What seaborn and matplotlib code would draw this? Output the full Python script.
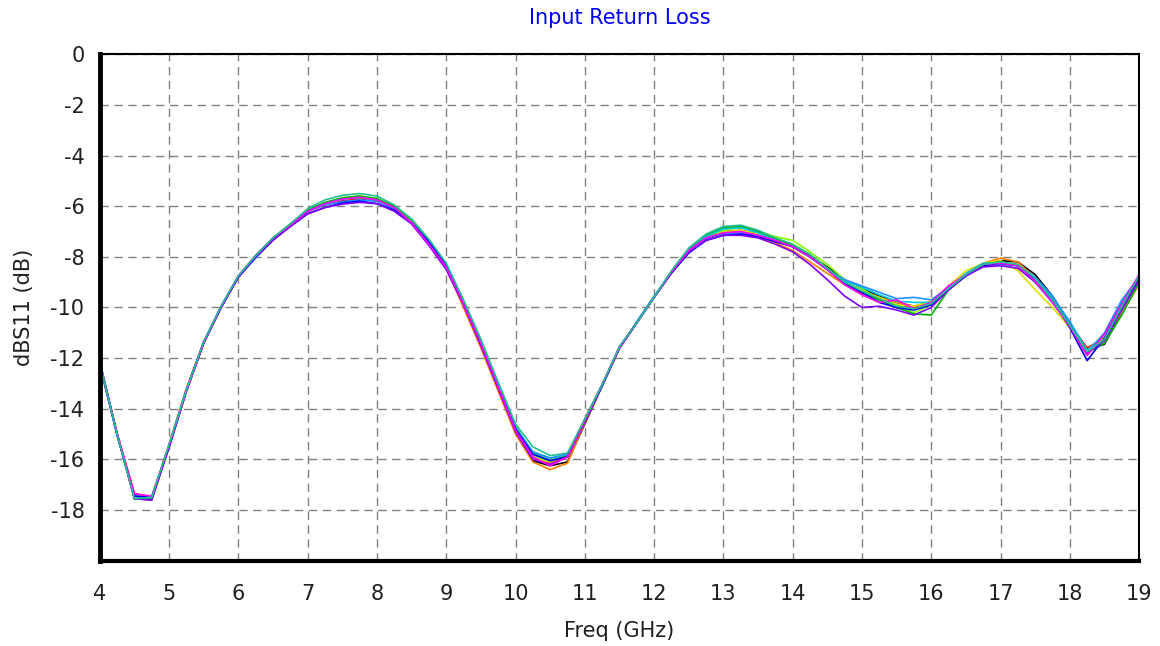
import numpy as np
import pandas as pd
import seaborn as sns
from matplotlib import pyplot as plt
from matplotlib.ticker import AutoMinorLocator, MultipleLocator

# frequency grid (GHz), 0.25 GHz steps
freq = np.arange(4.0, 19.001, 0.25)

# mean S11 trace (dB)
s11_base = [-12.2, -15.0, -17.45, -17.5, -15.5, -13.3, -11.4, -10.0, -8.8, -8.0, -7.3, -6.75, -6.2, -5.9, -5.72,
            -5.65, -5.75, -6.05, -6.6, -7.4, -8.35, -9.8, -11.4, -13.1, -14.8, -15.8, -16.05, -15.9, -14.5, -13.1,
            -11.6, -10.6, -9.6, -8.6, -7.75, -7.25, -7.0, -6.95, -7.1, -7.35, -7.6, -8.0, -8.5, -9.0, -9.3,
            -9.6, -9.8, -9.95, -9.8, -9.25, -8.75, -8.35, -8.25, -8.35, -8.9, -9.7, -10.7, -11.8, -11.2, -10.0, -8.9]

# spread of each measured unit around the mean (dB)
dev_black = [0, 0, -0.1, -0.1, 0, 0, 0, 0, 0, 0, 0, 0, 0, 0, -0.05,
             -0.05, -0.05, 0, 0, 0.05, 0, -0.1, -0.1, -0.1, -0.15, -0.25, -0.2, -0.2, -0.1, 0,
             0, 0, 0, 0, 0, 0, -0.05, -0.05, 0, 0, 0.05, 0.05, 0.1, 0.1, 0.05,
             0.05, 0, 0, 0, 0, 0.05, 0.05, 0.1, 0.15, 0.2, 0.15, 0.05, 0.15, -0.25, -0.2, 0]
dev_red = [-0.1, 0, 0.1, 0, 0.1, 0.1, 0.05, 0, 0, 0.05, 0, 0, 0, -0.05, -0.05,
           -0.05, 0, 0, 0.05, 0, 0, 0.05, 0.1, 0, 0, -0.1, -0.1, 0.05, 0.1, 0.05,
           0, 0, 0, 0, 0, 0.05, 0, 0, 0, 0.05, 0, 0, 0, -0.1, -0.15,
           -0.1, -0.1, -0.05, 0, 0.05, 0, 0, 0, 0.05, 0, -0.05, 0.05, 0.2, 0, -0.1, -0.1]
dev_orange = [0, 0, 0, 0, 0, 0, 0, 0, 0, 0, 0, 0, 0, 0, 0,
              0, 0, 0, 0, -0.05, -0.1, -0.2, -0.2, -0.2, -0.2, -0.3, -0.35, -0.25, -0.05, 0,
              0, 0, 0, 0, 0, -0.05, -0.1, -0.1, -0.1, -0.1, -0.15, -0.2, -0.15, -0.1, -0.05,
              0, 0, 0, 0, 0, 0.05, 0.1, 0.2, 0.15, 0.05, -0.1, 0, 0.1, 0, -0.2, -0.2]
dev_yellow = [0, 0.05, 0, 0, 0.05, 0.05, 0, 0, 0, 0, 0, 0, 0, 0, 0,
              0, 0, 0, 0, 0, 0, 0, 0, -0.05, -0.05, -0.15, -0.05, 0.05, 0.05, 0.05,
              0.05, 0, 0, 0, 0, 0, 0, 0, 0, 0.05, 0.1, 0.1, 0.05, 0, -0.05,
              0, -0.1, 0, 0.05, 0.1, 0.2, 0.1, 0.1, -0.2, -0.4, -0.3, -0.1, 0.1, 0, 0, 0]
dev_lime = [0, 0, 0, 0, 0, 0, 0, 0, 0, 0, 0, 0, 0, 0, 0.05,
            0.05, 0.05, 0, 0.05, 0.05, 0.05, 0, 0, 0, 0, -0.1, 0, 0.05, 0.05, 0.05,
            0, 0, 0, 0, 0, 0.05, 0.05, 0.1, 0.1, 0.15, 0.25, 0.2, 0.2, 0.1, 0.05,
            -0.1, -0.1, -0.25, -0.1, 0, 0, 0.05, 0.05, 0, -0.1, -0.05, 0, 0.05, -0.1, -0.1, 0]
dev_green = [0.1, 0, -0.1, -0.05, 0, 0, 0, 0, 0.05, 0.05, 0.05, 0.05, 0.05, 0.05, 0.05,
             0.05, 0.05, 0.05, 0, 0, 0, 0.05, 0.05, 0.1, 0.1, 0.05, 0, 0.05, 0.05, 0,
             0, 0, 0, 0, 0.05, 0.1, 0.15, 0.15, 0.1, 0.05, 0.05, 0.05, 0.05, 0, -0.1,
             -0.1, -0.2, -0.3, -0.5, -0.05, 0, 0.05, 0.05, 0, 0, -0.05, -0.05, 0, -0.2, -0.3, -0.1]
dev_cyan = [0, -0.05, 0, 0, 0, 0, 0, 0.05, 0, 0, 0, 0, 0, 0, 0,
            0, 0, -0.05, -0.05, 0, 0.05, 0, 0, 0.05, 0.05, 0.1, 0.1, 0.1, 0.05, 0,
            0, 0.05, 0.05, 0, 0, 0.05, 0.1, 0.1, 0.05, 0, 0, 0, 0, 0.05, 0.1,
            0.1, 0.05, 0.15, 0, 0, 0.1, 0.1, 0, 0, 0.05, 0.1, 0.15, 0.1, 0.15, 0.2, 0.1]
dev_dodger = [-0.05, -0.05, 0, 0, -0.05, 0, 0, 0, 0, -0.05, -0.05, 0, 0, -0.05, -0.1,
              -0.1, -0.05, -0.05, -0.05, 0, 0, 0, 0, 0.05, 0.05, 0.1, 0.1, 0.1, 0.05, 0.05,
              0, 0, 0, 0, -0.05, -0.05, -0.1, -0.1, -0.05, 0, 0, 0, 0, 0.1, 0.15,
              0.2, 0.15, 0.35, 0.1, 0.05, 0, 0, -0.05, 0, 0.1, 0.15, 0.1, 0, 0.2, 0.3, 0.1]
dev_blue = [0, 0, 0, 0, 0, 0, 0, 0, 0, 0, 0, -0.05, -0.1, -0.15, -0.15,
            -0.15, -0.15, -0.1, -0.05, 0, 0, 0, 0, 0, 0, 0, 0, 0, 0, 0,
            0, 0, 0, -0.05, -0.1, -0.1, -0.15, -0.15, -0.1, -0.05, 0, 0, 0, -0.05, -0.1,
            -0.2, -0.2, -0.15, -0.1, -0.05, 0, 0, 0, 0, 0, 0, -0.1, -0.3, 0, 0.05, 0.05]
dev_purple = [0.05, 0, -0.1, -0.1, 0, 0.05, 0.05, 0, 0, 0, -0.05, -0.05, -0.1, -0.15, -0.2,
              -0.2, -0.15, -0.15, -0.1, -0.15, -0.15, -0.1, -0.1, -0.1, -0.1, -0.2, -0.15, 0, 0, 0.05,
              0.05, 0, 0, 0, -0.05, -0.1, -0.15, -0.2, -0.15, -0.15, -0.2, -0.3, -0.4, -0.55, -0.7,
              -0.35, -0.3, -0.35, -0.2, -0.05, 0, -0.05, -0.1, -0.1, -0.1, -0.1, 0, 0, -0.1, -0.1, 0]
dev_magenta = [0, 0.05, 0.1, 0.05, 0.05, 0, 0, 0.05, 0.05, 0.05, 0.05, 0, 0, 0, 0,
               0, 0, 0, -0.05, -0.1, -0.05, -0.05, 0, 0, -0.05, -0.1, -0.2, 0, 0.05, 0.05,
               0, 0, 0, 0, 0, 0, -0.05, -0.05, -0.05, 0, 0, 0, 0, -0.1, -0.2,
               -0.2, 0.1, -0.1, 0, 0.1, 0.05, 0.05, 0, 0, -0.05, -0.1, -0.05, -0.1, 0.15, 0.15, 0.2]
dev_teal = [0, 0, -0.1, 0, 0.1, 0.05, 0.05, 0.05, 0.05, 0.05, 0.05, 0.05, 0.1, 0.15, 0.15,
            0.15, 0.15, 0.1, 0.1, 0.1, 0.1, 0.1, 0.15, 0.15, 0.2, 0.3, 0.2, 0.15, 0.1, 0.05,
            0.05, 0, 0, 0.05, 0.1, 0.15, 0.2, 0.2, 0.15, 0.1, 0.1, 0.1, 0.05, 0, -0.05,
            -0.05, -0.15, -0.1, -0.05, 0, 0.05, 0.05, 0.05, 0.05, 0.05, 0, 0, 0.05, -0.05, 0.05, 0.15]

units = ['black', 'red', 'orange', 'yellow', 'lime', 'green',
         'cyan', 'dodger', 'blue', 'purple', 'magenta', 'teal']
devs = [dev_black, dev_red, dev_orange, dev_yellow, dev_lime, dev_green,
        dev_cyan, dev_dodger, dev_blue, dev_purple, dev_magenta, dev_teal]
colors = ['#000000', '#FF0000', '#FF8000', '#E0E000', '#80FF00', '#00B000',
          '#00C8E0', '#2090FF', '#0000FF', '#8000FF', '#FF00FF', '#20C090']

frames = []
for name, d in zip(units, devs):
    frames.append(pd.DataFrame({'freq': freq,
                                'dBS11': np.array(s11_base) + np.array(d),
                                'unit': name}))
df = pd.concat(frames, ignore_index=True)

sns.set_style('white')
plt.rcParams['font.family'] = ['DejaVu Sans']
plt.rcParams['axes.unicode_minus'] = False

fig = plt.figure(figsize=(11.6, 6.46), dpi=100)
ax = fig.add_axes([0.086, 0.132, 0.896, 0.784])

sns.lineplot(x='freq', y='dBS11', hue='unit', data=df, palette=colors,
             hue_order=units, legend=False, linewidth=1.2, ax=ax)

ax.set_xlim(4, 19)
ax.set_ylim(-20, 0)
ax.set_xticks(np.arange(4, 20, 1))
ax.set_yticks(np.arange(-18, 1, 2))
ax.xaxis.set_minor_locator(MultipleLocator(0.25))
ax.yaxis.set_minor_locator(AutoMinorLocator(5))
ax.grid(True, which='major', color='#808080', linestyle=(0, (6, 4)), linewidth=1.0)

ax.tick_params(axis='x', which='major', direction='out', length=7, width=1.2,
               colors='#303030', labelsize=15, labelcolor='#202020', pad=10)
ax.tick_params(axis='x', which='minor', direction='out', length=4, width=1, colors='#606060')
ax.tick_params(axis='y', which='major', direction='inout', length=10, width=1.2,
               colors='#303030', labelsize=15, labelcolor='#202020', pad=6)
ax.tick_params(axis='y', which='minor', direction='inout', length=5, width=1, colors='#606060')

ax.spines['left'].set_linewidth(3.5)
ax.spines['bottom'].set_linewidth(3.0)
ax.spines['top'].set_linewidth(1.5)
ax.spines['right'].set_linewidth(1.5)
for s in ax.spines.values():
    s.set_color('black')

ax.set_xlabel('Freq (GHz)', fontsize=15, labelpad=12, color='#202020')
ax.set_ylabel('dBS11 (dB)', fontsize=15, labelpad=12, color='#202020')
ax.set_title('Input Return Loss', color='#0000FF', fontsize=15, pad=22)

fig.savefig('out.png', dpi=100)
